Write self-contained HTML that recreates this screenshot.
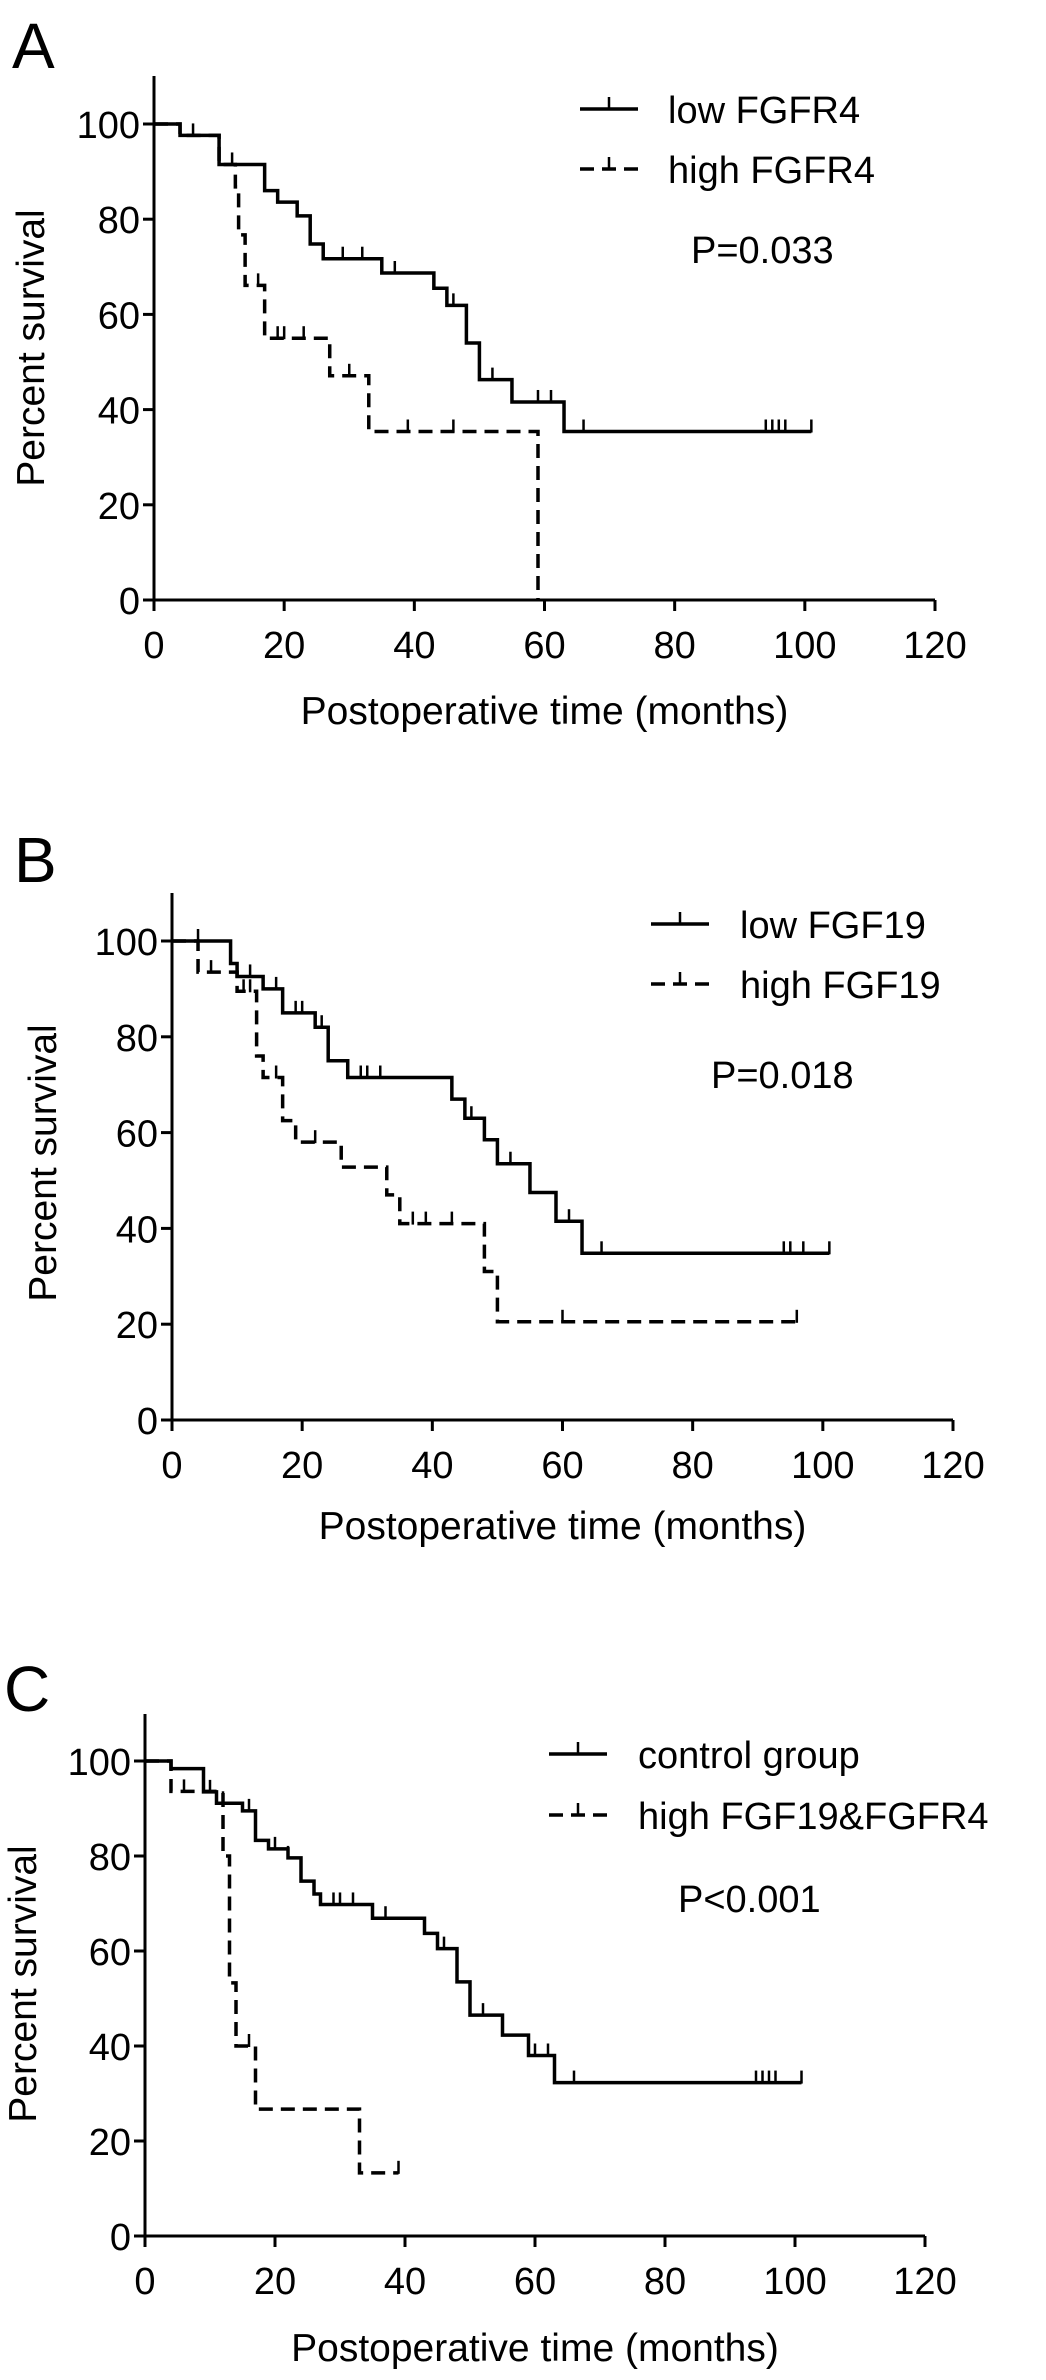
<!DOCTYPE html>
<html><head><meta charset="utf-8"><style>
html,body{margin:0;padding:0;background:#fff}
svg{display:block}
text{font-family:"Liberation Sans",Arial,sans-serif;fill:#000}
</style></head><body>
<svg id="fig" width="1046" height="2380" viewBox="0 0 1046 2380" xmlns="http://www.w3.org/2000/svg"></svg>
<script>
// ---- data (months, percent survival) ----
const xTicks = [0, 20, 40, 60, 80, 100, 120];
const yTicks = [0, 20, 40, 60, 80, 100];

const aLowTimes = [0, 4, 10, 17, 19, 22, 24, 26, 35, 43, 45, 48, 50, 55, 63];
const aLowSurv  = [100, 97.6, 91.5, 86, 83.6, 80.7, 74.8, 71.7, 68.7, 65.5, 61.9, 54, 46.3, 41.6, 35.4];
const aLowEnd = 101;
const aLowCens = [6, 10, 12, 29, 32, 37, 46, 52, 59, 61, 66, 94, 95, 96, 97, 101];
const aHighTimes = [0, 4, 10, 12.5, 13, 14, 17, 27, 33, 59];
const aHighSurv  = [100, 97.6, 91.5, 86.8, 76.7, 66.1, 55, 47.1, 35.4, 0];
const aHighEnd = 59;
const aHighCens = [16, 19, 20, 23, 30, 39, 46];

const bLowTimes = [0, 9, 10, 14, 17, 22, 24, 27, 43, 45, 48, 50, 55, 59, 63];
const bLowSurv  = [100, 95.3, 92.6, 90, 85, 82, 75, 71.5, 67, 63, 58.5, 53.5, 47.5, 41.5, 34.8];
const bLowEnd = 101;
const bLowCens = [4, 12, 16, 19, 20, 23, 29, 30, 32, 46, 52, 61, 66, 94, 95, 97, 101];
const bHighTimes = [0, 4, 10, 13, 14, 17, 19, 26, 33, 35, 48, 50];
const bHighSurv  = [100, 93.5, 89.5, 76, 71.5, 62.5, 58, 52.8, 47, 41, 31, 20.5];
const bHighEnd = 96;
const bHighCens = [6, 11, 12, 16, 22, 37, 39, 43, 60, 96];

const cLowTimes = [0, 4, 9, 11, 15, 17, 19, 22, 24, 26, 27, 35, 43, 45, 48, 50, 55, 59, 63];
const cLowSurv  = [100, 98.4, 93.5, 91.1, 89.5, 83.3, 81.5, 79.6, 74.7, 72, 69.8, 66.9, 63.7, 60.5, 53.5, 46.5, 42.3, 38, 32.3];
const cLowEnd = 101;
const cLowCens = [10, 12, 16, 20, 22, 29, 30, 32, 37, 46, 52, 60, 62, 66, 94, 95, 96, 97, 101];
const cHighTimes = [0, 4, 12, 13, 14, 17, 33];
const cHighSurv  = [100, 93.6, 80, 53.3, 40, 26.7, 13.3];
const cHighEnd = 39;
const cHighCens = [6, 16, 39];

const NS = "http://www.w3.org/2000/svg";
const svg = document.getElementById('fig');
function mk(tag, attrs, parent){
  const e = document.createElementNS(NS, tag);
  for (const k in attrs) e.setAttribute(k, attrs[k]);
  (parent||svg).appendChild(e);
  return e;
}
function txt(s, attrs, parent){ const t = mk('text', attrs, parent); t.textContent = s; return t; }

function panel(cfg){
  const g = mk('g', {});
  
  
  const X = v => cfg.xL + (cfg.xR - cfg.xL) * v / 120;
  const Y = v => cfg.y0 - (cfg.y0 - cfg.y100) * v / 100;

  const L = txt(cfg.letter, {x: cfg.lx, y: cfg.ly, 'font-size': 64}, g);
  
  

  const ax = mk('path', {d: `M${cfg.xL} ${cfg.top} V${cfg.y0} H${cfg.xR}`, stroke:'#000', 'stroke-width':3, fill:'none'}, g);
  
  
  xTicks.forEach(v => {
    const t = mk('line', {x1:X(v), x2:X(v), y1:cfg.y0, y2:cfg.y0+11, stroke:'#000','stroke-width':3}, g);
    
    
    const l = txt(String(v), {x:X(v), y:cfg.y0+58, 'font-size':38, 'text-anchor':'middle'}, g);
    
    
  });
  yTicks.forEach(v => {
    const t = mk('line', {x1:cfg.xL-11, x2:cfg.xL, y1:Y(v), y2:Y(v), stroke:'#000','stroke-width':3}, g);
    
    
    const l = txt(String(v), {x:cfg.xL-14, y:Y(v)+14, 'font-size':38, 'text-anchor':'end'}, g);
    
    
  });
  const xt = txt('Postoperative time (months)', {x:(cfg.xL+cfg.xR)/2, y:cfg.titleY, 'font-size':39, 'text-anchor':'middle'}, g);
  
  
  const yt = txt('Percent survival', {x:0, y:0, 'font-size':39, 'text-anchor':'middle', transform:`translate(${cfg.ylx},${cfg.lyc}) rotate(-90)`}, g);
  
  

  function series(times, surv, end, cens, dashed, name){
    let d = `M${X(times[0])} ${Y(surv[0])}`;
    for (let i = 1; i < times.length; i++){
      d += ` H${X(times[i])} V${Y(surv[i])}`;
    }
    d += ` H${X(end)}`;
    const p = mk('path', {d, stroke:'#000','stroke-width':3.5, fill:'none'}, g);
    if (dashed) p.setAttribute('stroke-dasharray', '14 8');
    
    
    const survAt = t => { let s = surv[0]; for (let i=0;i<times.length;i++){ if (times[i] <= t) s = surv[i]; } return s; };
    cens.forEach(t => {
      const y = Y(survAt(t));
      const c = mk('line', {x1:X(t), x2:X(t), y1:y-12, y2:y+1, stroke:'#000','stroke-width':2.5}, g);
      
      
    });
  }
  series(cfg.low[0], cfg.low[1], cfg.low[2], cfg.low[3], false, 'low');
  series(cfg.high[0], cfg.high[1], cfg.high[2], cfg.high[3], true, 'high');

  [[cfg.leg1, false, cfg.legY1], [cfg.leg2, true, cfg.legY2]].forEach(([label, dashed, y]) => {
    const ln = mk('path', {d:`M${cfg.legX} ${y} H${cfg.legX+58}`, stroke:'#000','stroke-width':3.5, fill:'none'}, g);
    if (dashed) ln.setAttribute('stroke-dasharray', '14 8');
    
    
    const tk = mk('line', {x1:cfg.legX+29, x2:cfg.legX+29, y1:y-12, y2:y, stroke:'#000','stroke-width':2.5}, g);
    
    
    const lt = txt(label, {x:cfg.legTX, y:y+14, 'font-size':38}, g);
    
    
  });
  const pv = txt(cfg.p, {x:cfg.px, y:cfg.py, 'font-size':38}, g);
  
  
}

panel({letter:'A', lx:12, ly:68, xL:154, xR:935, y0:600, y100:124, top:76, titleY:724, ylx:44, lyc:348,
  low:[aLowTimes, aLowSurv, aLowEnd, aLowCens], high:[aHighTimes, aHighSurv, aHighEnd, aHighCens],
  leg1:'low FGFR4', leg2:'high FGFR4', legX:580, legTX:668, legY1:109, legY2:169, p:'P=0.033', px:691, py:263});
panel({letter:'B', lx:14, ly:882, xL:172, xR:953, y0:1420, y100:941, top:893, titleY:1539, ylx:56, lyc:1163,
  low:[bLowTimes, bLowSurv, bLowEnd, bLowCens], high:[bHighTimes, bHighSurv, bHighEnd, bHighCens],
  leg1:'low FGF19', leg2:'high FGF19', legX:651, legTX:740, legY1:924, legY2:984, p:'P=0.018', px:711, py:1088});
panel({letter:'C', lx:4, ly:1711, xL:145, xR:925, y0:2236, y100:1761, top:1714, titleY:2361, ylx:36, lyc:1984,
  low:[cLowTimes, cLowSurv, cLowEnd, cLowCens], high:[cHighTimes, cHighSurv, cHighEnd, cHighCens],
  leg1:'control group', leg2:'high FGF19&FGFR4', legX:549, legTX:638, legY1:1754, legY2:1815, p:'P<0.001', px:678, py:1912});
</script>
</body></html>
